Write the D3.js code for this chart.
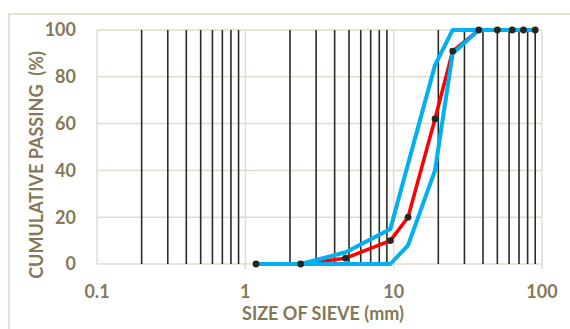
<!DOCTYPE html>
<html>
<head>
<meta charset="utf-8">
<script src="https://cdn.jsdelivr.net/npm/d3@7"></script>
<style>
  body { margin: 0; background: #fff; }
  svg text { font-family: "Lato", "Open Sans", sans-serif; font-weight: bold; fill: #857857; }
</style>
</head>
<body>
<div id="chart"></div>
<script>
// sieve sizes (mm) and cumulative passing (%)
const sieveSizes = [1.18, 2.36, 4.75, 9.5, 12.5, 19, 25, 37.5, 50, 63, 75, 90];
const passing    = [0, 0, 2.5, 10, 20, 62, 91, 100, 100, 100, 100, 100];
const upperLimit = [0, 0, 5, 15, null, 85, 100, 100, 100, 100, 100, 100];
const lowerLimit = [0, 0, 0, 0, 8, 40, 90, 100, 100, 100, 100, 100];
const xTicks = [0.1, 1, 10, 100];
const yTicks = [0, 20, 40, 60, 80, 100];

const W = 570, H = 329;
const margin = { top: 30, right: 28, bottom: 65, left: 97 };

const svg = d3.select("#chart").append("svg")
    .attr("width", W)
    .attr("height", H);

// chart frame (runs off the right and bottom edges)
svg.append("rect")
    .attr("x", 9).attr("y", 14)
    .attr("width", W + 10).attr("height", H + 10)
    .attr("fill", "none")
    .attr("stroke", "#ddd9c9")
    .attr("stroke-width", 1.5);

const x = d3.scaleLog()
    .domain([0.1, 100])
    .range([margin.left, W - margin.right]);

const y = d3.scaleLinear()
    .domain([0, 100])
    .range([H - margin.bottom, margin.top]);

const gridColor = "#e0ddd0";

// horizontal gridlines
svg.append("g")
  .selectAll("line")
  .data(yTicks)
  .enter().append("line")
    .attr("x1", x(0.1)).attr("x2", x(100))
    .attr("y1", d => y(d)).attr("y2", d => y(d))
    .attr("stroke", gridColor)
    .attr("stroke-width", 1.5);

// major vertical gridlines + outward tick marks
svg.append("g")
  .selectAll("line")
  .data(xTicks)
  .enter().append("line")
    .attr("x1", d => x(d)).attr("x2", d => x(d))
    .attr("y1", y(100)).attr("y2", d => d === 0.1 ? y(0) : y(0) + 5)
    .attr("stroke", gridColor)
    .attr("stroke-width", 1.5);

// minor vertical gridlines (2..9 in each decade)
const minor = [];
xTicks.slice(0, -1).forEach(dec => {
  for (let k = 2; k <= 9; k++) minor.push(dec * k);
});
svg.append("g")
  .selectAll("line")
  .data(minor)
  .enter().append("line")
    .attr("x1", d => x(d)).attr("x2", d => x(d))
    .attr("y1", y(100)).attr("y2", y(0))
    .attr("stroke", "#2b2a24")
    .attr("stroke-width", 1.6);

// tick labels
svg.append("g")
  .selectAll("text")
  .data(yTicks)
  .enter().append("text")
    .attr("x", 76)
    .attr("y", d => y(d))
    .attr("dy", "0.36em")
    .attr("text-anchor", "end")
    .style("font-size", "18px")
    .text(d => d);

svg.append("g")
  .selectAll("text")
  .data(xTicks)
  .enter().append("text")
    .attr("x", d => x(d))
    .attr("y", 298)
    .attr("text-anchor", "middle")
    .style("font-size", "18px")
    .text(d => d);

// axis titles
svg.append("text")
    .attr("x", 323)
    .attr("y", 320)
    .attr("text-anchor", "middle")
    .style("font-size", "18px")
    .text("SIZE OF SIEVE (mm)");

svg.append("text")
    .attr("transform", "translate(43,165) rotate(-90)")
    .attr("text-anchor", "middle")
    .style("font-size", "18px")
    .style("white-space", "pre")
    .text("CUMULATIVE PASSING  (%)");

// series
const pts = vals => sieveSizes.map((s, i) => [s, vals[i]]).filter(p => p[1] !== null);
const line = d3.line().x(d => x(d[0])).y(d => y(d[1]));

svg.append("path")
    .datum(pts(passing))
    .attr("d", line)
    .attr("fill", "none")
    .attr("stroke", "#ff0000")
    .attr("stroke-width", 3.5)
    .attr("stroke-linejoin", "round");

[upperLimit, lowerLimit].forEach(vals => {
  svg.append("path")
      .datum(pts(vals))
      .attr("d", line)
      .attr("fill", "none")
      .attr("stroke", "#00b0f0")
      .attr("stroke-width", 4)
      .attr("stroke-linejoin", "round");
});

svg.append("g")
  .selectAll("circle")
  .data(pts(passing))
  .enter().append("circle")
    .attr("cx", d => x(d[0]))
    .attr("cy", d => y(d[1]))
    .attr("r", 3.4)
    .attr("fill", "#272622");
</script>
</body>
</html>
